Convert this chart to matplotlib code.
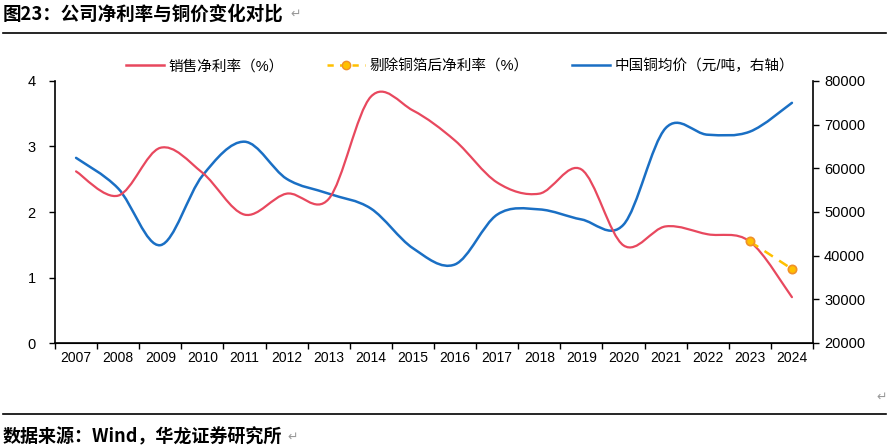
import matplotlib.pyplot as plt
from matplotlib.path import Path
from matplotlib.patches import PathPatch
from matplotlib.lines import Line2D
import numpy as np

plt.rcParams['font.family'] = ['Liberation Sans', 'Noto Sans CJK SC', 'DejaVu Sans']

years = ['2007', '2008', '2009', '2010', '2011', '2012', '2013', '2014', '2015',
         '2016', '2017', '2018', '2019', '2020', '2021', '2022', '2023', '2024']
net_margin = [2.62, 2.25, 2.98, 2.60, 1.96, 2.28, 2.20, 3.76, 3.55,
              3.09, 2.45, 2.28, 2.65, 1.49, 1.78, 1.66, 1.55, 0.70]
adj_years = ['2023', '2024']
adj_margin = [1.55, 1.13]
copper = [62400, 55400, 42400, 58300, 66100, 57600, 54200, 50800, 41700,
          38000, 49400, 50600, 48300, 47100, 69200, 67700, 68400, 75000]

RED = '#E8485E'
BLUE = '#1A6FC4'
ORANGE = '#FFC000'


def smooth_path(xs, ys):
    # Excel-style smoothed line: Catmull-Rom segments as cubic beziers
    pts = np.column_stack([xs, ys]).astype(float)
    n = len(pts)
    verts = [pts[0]]
    codes = [Path.MOVETO]
    for i in range(n - 1):
        p0 = pts[i - 1] if i > 0 else pts[i]
        p1 = pts[i]
        p2 = pts[i + 1]
        p3 = pts[i + 2] if i + 2 < n else pts[i + 1]
        c1 = p1 + (p2 - p0) / 6
        c2 = p2 - (p3 - p1) / 6
        verts += [c1, c2, p2]
        codes += [Path.CURVE4] * 3
    return Path(verts, codes)


fig = plt.figure(figsize=(8.89, 4.48), dpi=100)
ax = fig.add_axes([55 / 889, 105 / 448, 758 / 889, 262 / 448])
ax2 = ax.twinx()

x = np.arange(len(years))
xa = np.array([years.index(y) for y in adj_years])

ax2.add_patch(PathPatch(smooth_path(x, copper), fill=False, edgecolor=BLUE, lw=1.8,
                        capstyle='round'))
ax.add_patch(PathPatch(smooth_path(x, net_margin), fill=False, edgecolor=RED, lw=1.6,
                       capstyle='round'))
ax.plot(xa, adj_margin, color=ORANGE, lw=1.8, ls=(0, (4, 3)), marker='o', ms=6,
        markerfacecolor=ORANGE, markeredgecolor='#F0902A', markeredgewidth=1.2, zorder=5)
ax.set_zorder(ax2.get_zorder() + 1)
ax.patch.set_visible(False)

ax.set_xlim(-0.5, len(years) - 0.5)
ax.set_ylim(0, 4)
ax2.set_ylim(20000, 80000)
ax.set_yticks([0, 1, 2, 3, 4])
ax2.set_yticks(np.arange(20000, 80001, 10000))

ax.set_xticks(np.arange(-0.5, len(years)), labels=[])
ax.set_xticks(x, labels=years, minor=True)
ax.tick_params(axis='x', which='major', length=4, width=1, direction='out')
ax.tick_params(axis='x', which='minor', length=0, pad=6, labelsize=10)
ax.tick_params(axis='y', length=4, width=1, labelsize=10.5, pad=10)
ax2.tick_params(axis='y', length=4, width=1, labelsize=10.5, pad=4)

for a in (ax, ax2):
    a.spines['top'].set_visible(False)
ax.spines['right'].set_visible(False)
ax2.spines['left'].set_visible(False)
ax.spines['left'].set_linewidth(1.2)
ax.spines['bottom'].set_linewidth(1.2)
ax2.spines['right'].set_linewidth(1.2)

handles = [
    Line2D([], [], color=RED, lw=1.8),
    Line2D([], [], color=ORANGE, lw=1.8, ls=(0, (2.5, 2.5)), marker='o', ms=6,
           markerfacecolor=ORANGE, markeredgecolor='#F0902A'),
    Line2D([], [], color=BLUE, lw=1.8),
]
labels = ['销售净利率（%）', '剔除铜箔后净利率（%）', '中国铜均价（元/吨，右轴）']
fig.legend(handles, labels, loc='center', bbox_to_anchor=(460 / 889, 1 - 66 / 448),
           ncol=3, frameon=False, fontsize=10.5, handlelength=2.6, columnspacing=3.0,
           handletextpad=0.3)

# header and footer of the report page
fig.text(3 / 889, 1 - 14 / 448, '图23：公司净利率与铜价变化对比', fontsize=13.3,
         fontweight='bold', family=['Noto Sans CJK SC'], va='center', ha='left')
fig.text(290 / 889, 1 - 14 / 448, '↵', fontsize=9, color='#999999',
         family=['DejaVu Sans'], va='center')
fig.add_artist(Line2D([3 / 889, 886 / 889], [1 - 33 / 448] * 2, color='black', lw=1.2))
fig.add_artist(Line2D([3 / 889, 886 / 889], [1 - 414 / 448] * 2, color='black', lw=1.2))
fig.text(876 / 889, 1 - 397 / 448, '↵', fontsize=9, color='#999999',
         family=['DejaVu Sans'], va='center')
fig.text(3 / 889, 1 - 437 / 448, '数据来源：Wind，华龙证券研究所', fontsize=13,
         fontweight='bold', family=['Noto Sans CJK SC'], va='center', ha='left')
fig.text(287 / 889, 1 - 437 / 448, '↵', fontsize=9, color='#999999',
         family=['DejaVu Sans'], va='center')

fig.savefig('out.png', dpi=100)
